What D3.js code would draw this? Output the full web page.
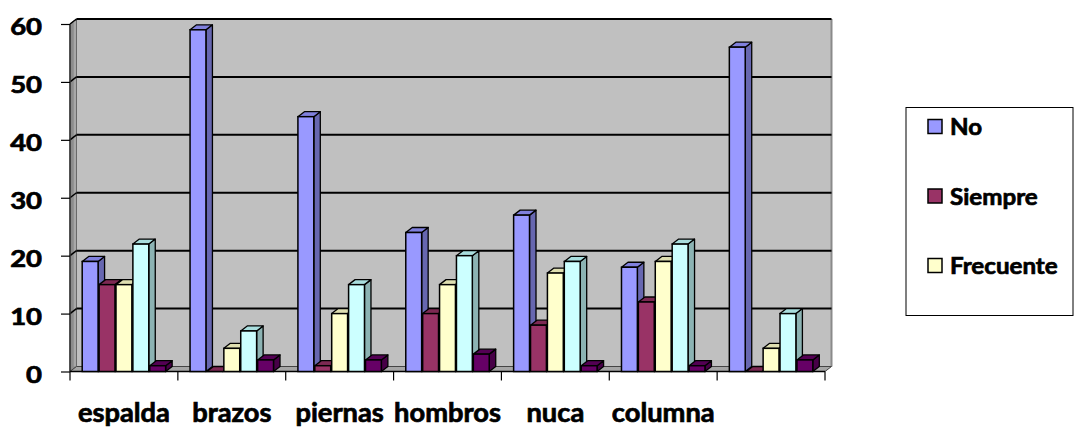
<!DOCTYPE html>
<html>
<head>
<meta charset="utf-8">
<script src="https://cdn.jsdelivr.net/npm/d3@7"></script>
<style>
  html, body { margin: 0; padding: 0; background: #fff; }
  svg { display: block; }
  text { font-family: Lato, "Open Sans", sans-serif; font-weight: 700; fill: #000;
         stroke: #000; stroke-width: 0.7px; paint-order: stroke; }
</style>
</head>
<body>
<svg id="chart" width="1088" height="429"></svg>
<script>
// Body areas and the answer series
const categories = ["espalda", "brazos", "piernas", "hombros", "nuca", "columna", ""];
const seriesNames = ["No", "Siempre", "Frecuente", "A veces", "Nunca"];
const legendNames = ["No", "Siempre", "Frecuente"];
const valuesNo        = [19, 59, 44, 24, 27, 18, 56];
const valuesSiempre   = [15,  0,  1, 10,  8, 12,  0];
const valuesFrecuente = [15,  4, 10, 15, 17, 19,  4];
const valuesAVeces    = [22,  7, 15, 20, 19, 22, 10];
const valuesNunca     = [ 1,  2,  2,  3,  1,  1,  2];
const yTicks = [0, 10, 20, 30, 40, 50, 60];

const seriesValues = [valuesNo, valuesSiempre, valuesFrecuente, valuesAVeces, valuesNunca];

// front / top / side shades for each series
const palette = [
  { front: "#9999ff", top: "#8080dd", side: "#6767b0" },
  { front: "#993366", top: "#7d2953", side: "#6a2347" },
  { front: "#ffffcc", top: "#dedeb0", side: "#b4b48f" },
  { front: "#ccffff", top: "#a9dede", side: "#8cb3b3" },
  { front: "#660066", top: "#540054", side: "#470047" }
];

const svg = d3.select("#chart");

const plot = { left: 70, right: 825, top: 24, bottom: 371.5 };
const depth = { dx: 6.5, dy: -5 };

const x = d3.scaleBand().domain(d3.range(categories.length))
  .range([plot.left, plot.right]).paddingInner(0).paddingOuter(0);
const y = d3.scaleLinear().domain([0, 60]).range([plot.bottom, plot.top]);

const groupPad = 12.2;
const xs = d3.scaleBand().domain(d3.range(seriesNames.length))
  .range([groupPad, x.bandwidth() - groupPad]).paddingInner(0.06);

const poly = pts => pts.map(p => p.join(",")).join(" ");

// back wall
svg.append("rect")
  .attr("x", plot.left + depth.dx).attr("y", plot.top + depth.dy)
  .attr("width", plot.right - plot.left).attr("height", plot.bottom - plot.top)
  .attr("fill", "#c0c0c0");
// right edge shading of back wall
svg.append("line")
  .attr("x1", plot.right + depth.dx).attr("x2", plot.right + depth.dx)
  .attr("y1", plot.top + depth.dy).attr("y2", plot.bottom + depth.dy)
  .attr("stroke", "#8a8a8a").attr("stroke-width", 2);

// left side wall
svg.append("polygon")
  .attr("points", poly([
    [plot.left, plot.top], [plot.left + depth.dx, plot.top + depth.dy],
    [plot.left + depth.dx, plot.bottom + depth.dy], [plot.left, plot.bottom]
  ]))
  .attr("fill", "#8c8c8c").attr("stroke", "#555").attr("stroke-width", 1);
svg.append("line")
  .attr("x1", plot.left + depth.dx - 1.5).attr("x2", plot.left + depth.dx - 1.5)
  .attr("y1", plot.top + depth.dy + 2).attr("y2", plot.bottom + depth.dy)
  .attr("stroke", "#a8a8a8").attr("stroke-width", 2.5);

// floor
svg.append("polygon")
  .attr("points", poly([
    [plot.left, plot.bottom], [plot.left + depth.dx, plot.bottom + depth.dy],
    [plot.right + depth.dx, plot.bottom + depth.dy], [plot.right, plot.bottom]
  ]))
  .attr("fill", "#a6a6a6").attr("stroke", "#444").attr("stroke-width", 1);

// gridlines on the back wall and across the side wall
const grid = svg.append("g");
yTicks.filter(v => v > 0).forEach(v => {
  grid.append("line")
    .attr("x1", plot.left + depth.dx).attr("x2", plot.right + depth.dx)
    .attr("y1", y(v) + depth.dy).attr("y2", y(v) + depth.dy)
    .attr("stroke", "#000").attr("stroke-width", 2);
  grid.append("line")
    .attr("x1", plot.left).attr("x2", plot.left + depth.dx)
    .attr("y1", y(v)).attr("y2", y(v) + depth.dy)
    .attr("stroke", "#000").attr("stroke-width", 1.5);
});

// front left edge (value axis line)
svg.append("line")
  .attr("x1", plot.left).attr("x2", plot.left)
  .attr("y1", plot.top).attr("y2", plot.bottom)
  .attr("stroke", "#333").attr("stroke-width", 1.5);

// value axis ticks and labels
const yAxis = d3.axisLeft(y).tickValues(yTicks).tickSize(9).tickPadding(0).tickFormat(d3.format("d"));
const yAxisG = svg.append("g").attr("transform", `translate(${plot.left},0)`).call(yAxis);
yAxisG.select(".domain").remove();
yAxisG.selectAll(".tick line").attr("stroke", "#000").attr("stroke-width", 1.2);
yAxisG.selectAll(".tick text")
  .attr("x", null).attr("dy", null)
  .attr("font-size", 22.5)
  .attr("text-anchor", "end")
  .attr("dominant-baseline", "central")
  .attr("transform", "translate(-28,2) scale(1.22,1)")
  .attr("font-family", "Lato, sans-serif").attr("font-weight", 700);

// category axis line, ticks and labels
const catTicks = d3.range(categories.length + 1).map(i => plot.left + i * x.bandwidth());
svg.append("line")
  .attr("x1", plot.left).attr("x2", plot.right)
  .attr("y1", plot.bottom).attr("y2", plot.bottom)
  .attr("stroke", "#000").attr("stroke-width", 1.5);
svg.append("g").selectAll("line").data(catTicks).join("line")
  .attr("x1", d => d).attr("x2", d => d)
  .attr("y1", plot.bottom).attr("y2", plot.bottom + 9)
  .attr("stroke", "#000").attr("stroke-width", 1.2);
svg.append("g").selectAll("text").data(categories).join("text")
  .attr("transform", (d, i) => `translate(${x(i) + x.bandwidth() / 2},421.5) scale(1.05,1)`)
  .attr("text-anchor", "middle")
  .attr("font-size", 26)
  .text(d => d);

// 3-D columns, drawn category by category, left to right
const bars = svg.append("g");
categories.forEach((c, ci) => {
  seriesValues.forEach((vals, si) => {
    const v = vals[ci];
    const bx = x(ci) + xs(si);
    const bw = xs.bandwidth();
    const yt = y(v);
    const yb = y(0);
    const col = palette[si];
    const g = bars.append("g");
    g.append("polygon")
      .attr("points", poly([[bx + bw, yt], [bx + bw + depth.dx, yt + depth.dy],
                            [bx + bw + depth.dx, yb + depth.dy], [bx + bw, yb]]))
      .attr("fill", col.side).attr("stroke", "#000").attr("stroke-width", 1.3)
      .attr("stroke-linejoin", "round");
    g.append("polygon")
      .attr("points", poly([[bx, yt], [bx + depth.dx, yt + depth.dy],
                            [bx + bw + depth.dx, yt + depth.dy], [bx + bw, yt]]))
      .attr("fill", col.top).attr("stroke", "#000").attr("stroke-width", 1.3)
      .attr("stroke-linejoin", "round");
    if (v > 0) {
      g.append("rect")
        .attr("x", bx).attr("y", yt)
        .attr("width", bw).attr("height", yb - yt)
        .attr("fill", col.front).attr("stroke", "#000").attr("stroke-width", 1.5);
    }
  });
});

// legend
const legend = svg.append("g");
legend.append("rect")
  .attr("x", 906).attr("y", 107.5).attr("width", 167).attr("height", 208)
  .attr("fill", "#fff").attr("stroke", "#000").attr("stroke-width", 1);
const legendY = d3.scalePoint().domain(legendNames).range([126.5, 265.5]);
legendNames.forEach((name, i) => {
  const ly = legendY(name);
  legend.append("rect")
    .attr("x", 928).attr("y", ly - 7).attr("width", 14).attr("height", 14)
    .attr("fill", palette[i].front).attr("stroke", "#000").attr("stroke-width", 1.5);
  legend.append("text")
    .attr("transform", `translate(950,${ly}) scale(1.05,1)`)
    .attr("dominant-baseline", "central")
    .attr("font-size", 23)
    .text(name);
});
</script>
</body>
</html>
